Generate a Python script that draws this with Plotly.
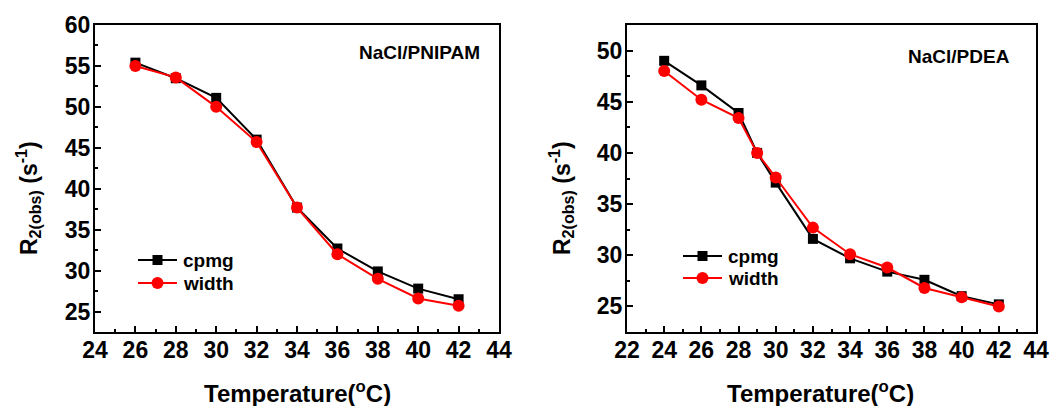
import plotly.graph_objects as go

# Left panel: NaCl/PNIPAM
temp_left = [26, 28, 30, 32, 34, 36, 38, 40, 42]
cpmg_left = [55.4, 53.5, 51.1, 46.0, 37.7, 32.7, 29.9, 27.8, 26.5]
width_left = [55.0, 53.6, 50.0, 45.7, 37.7, 32.0, 29.0, 26.6, 25.7]

# Right panel: NaCl/PDEA
temp_right = [24, 26, 28, 29, 30, 32, 34, 36, 38, 40, 42]
cpmg_right = [49.0, 46.6, 43.9, 40.0, 37.1, 31.6, 29.7, 28.4, 27.6, 26.0, 25.2]
width_right = [48.0, 45.2, 43.4, 40.0, 37.6, 32.7, 30.1, 28.8, 26.8, 25.9, 25.0]

W, H = 1055, 406
FONT = "Liberation Sans"

fig = go.Figure()

def add_pair(x, c, w, xa, ya):
    fig.add_trace(go.Scatter(x=x, y=c, mode="lines+markers", name="cpmg",
                             line=dict(color="black", width=2),
                             marker=dict(symbol="square", size=10, color="black"),
                             xaxis=xa, yaxis=ya, showlegend=False))
    fig.add_trace(go.Scatter(x=x, y=w, mode="lines+markers", name="width",
                             line=dict(color="red", width=2),
                             marker=dict(symbol="circle", size=12, color="red"),
                             xaxis=xa, yaxis=ya, showlegend=False))

add_pair(temp_left, cpmg_left, width_left, "x", "y")
add_pair(temp_right, cpmg_right, width_right, "x2", "y2")

def px(x):
    return x / W

def py(y):
    return 1 - y / H

tickfont = dict(family=FONT, size=23, color="black", weight="bold")
minor = dict(ticks="inside", ticklen=3, tickwidth=1.5, tickcolor="black")
axis_common = dict(showgrid=False, zeroline=False, showline=True, linecolor="black",
                   linewidth=2, mirror=True, ticks="inside", ticklen=6, tickwidth=1.5,
                   tickcolor="black", tickfont=tickfont, automargin=False)
xstand = dict(ticklabelstandoff=-4)
ystand = dict(ticklabelstandoff=-2)

fig.update_layout(
    template="none",
    width=W, height=H, autosize=False,
    margin=dict(l=0, r=0, t=0, b=0, pad=0, autoexpand=False),
    paper_bgcolor="white", plot_bgcolor="white",
    xaxis=dict(domain=[px(95), px(499)], range=[24, 44], tick0=24, dtick=2,
               anchor="y", minor=dict(dtick=1, **minor), **xstand, **axis_common),
    yaxis=dict(domain=[py(332), py(25)], range=[22.5, 60], tick0=25, dtick=5,
               anchor="x", minor=dict(dtick=2.5, **minor), **ystand, **axis_common),
    xaxis2=dict(domain=[px(627), px(1036)], range=[22, 44], tick0=22, dtick=2,
                anchor="y2", minor=dict(dtick=1, **minor), **xstand, **axis_common),
    yaxis2=dict(domain=[py(332), py(25)], range=[22.5, 52.5], tick0=25, dtick=5,
                anchor="x2", minor=dict(dtick=2.5, **minor), **ystand, **axis_common),
    showlegend=False,
)

anns = []
xtitle_font = dict(family=FONT, size=24, color="black", weight="bold")
ytitle_font = dict(family=FONT, size=23, color="black", weight="bold")
label_font = dict(family=FONT, size=19, color="black", weight="bold")
for xc in (297, 820):
    anns.append(dict(x=px(xc), y=py(392), xref="paper", yref="paper", showarrow=False,
                     text="Temperature(<sup>o</sup>C)", font=xtitle_font,
                     xanchor="center", yanchor="middle"))
for xc in (28, 561):
    anns.append(dict(x=px(xc), y=py(198), xref="paper", yref="paper", showarrow=False,
                     text="R<sub>2(obs)</sub> (s<sup>-1</sup>)", font=ytitle_font,
                     textangle=-90, xanchor="center", yanchor="middle"))
anns.append(dict(x=px(482), y=py(52), xref="paper", yref="paper", showarrow=False,
                 text="NaCl/PNIPAM", font=label_font, xanchor="right", yanchor="middle"))
anns.append(dict(x=px(1012), y=py(56), xref="paper", yref="paper", showarrow=False,
                 text="NaCl/PDEA", font=label_font, xanchor="right", yanchor="middle"))

legend_font = dict(family=FONT, size=19, color="black", weight="bold")
legend_items = [
    (138, 177, 260, 283),
    (683, 722, 256, 278),
]
shapes = []
for (x0, x1, yc, yw) in legend_items:
    xm = (x0 + x1) / 2
    for yy, col, kind, half, name in ((yc, "black", "rect", 5, "cpmg"),
                                      (yw, "red", "circle", 6, "width")):
        shapes.append(dict(type="line", xref="paper", yref="paper",
                           x0=px(x0), x1=px(x1), y0=py(yy), y1=py(yy),
                           line=dict(color=col, width=2)))
        shapes.append(dict(type=kind, xref="paper", yref="paper",
                           x0=px(xm - half), x1=px(xm + half),
                           y0=py(yy + half), y1=py(yy - half),
                           fillcolor=col, line=dict(color=col, width=0)))
        anns.append(dict(x=px(x1 + 4), y=py(yy), xref="paper", yref="paper",
                         showarrow=False, text=name, font=legend_font,
                         xanchor="left", yanchor="middle"))

fig.update_layout(annotations=anns, shapes=shapes)

fig.write_html("out.html")
